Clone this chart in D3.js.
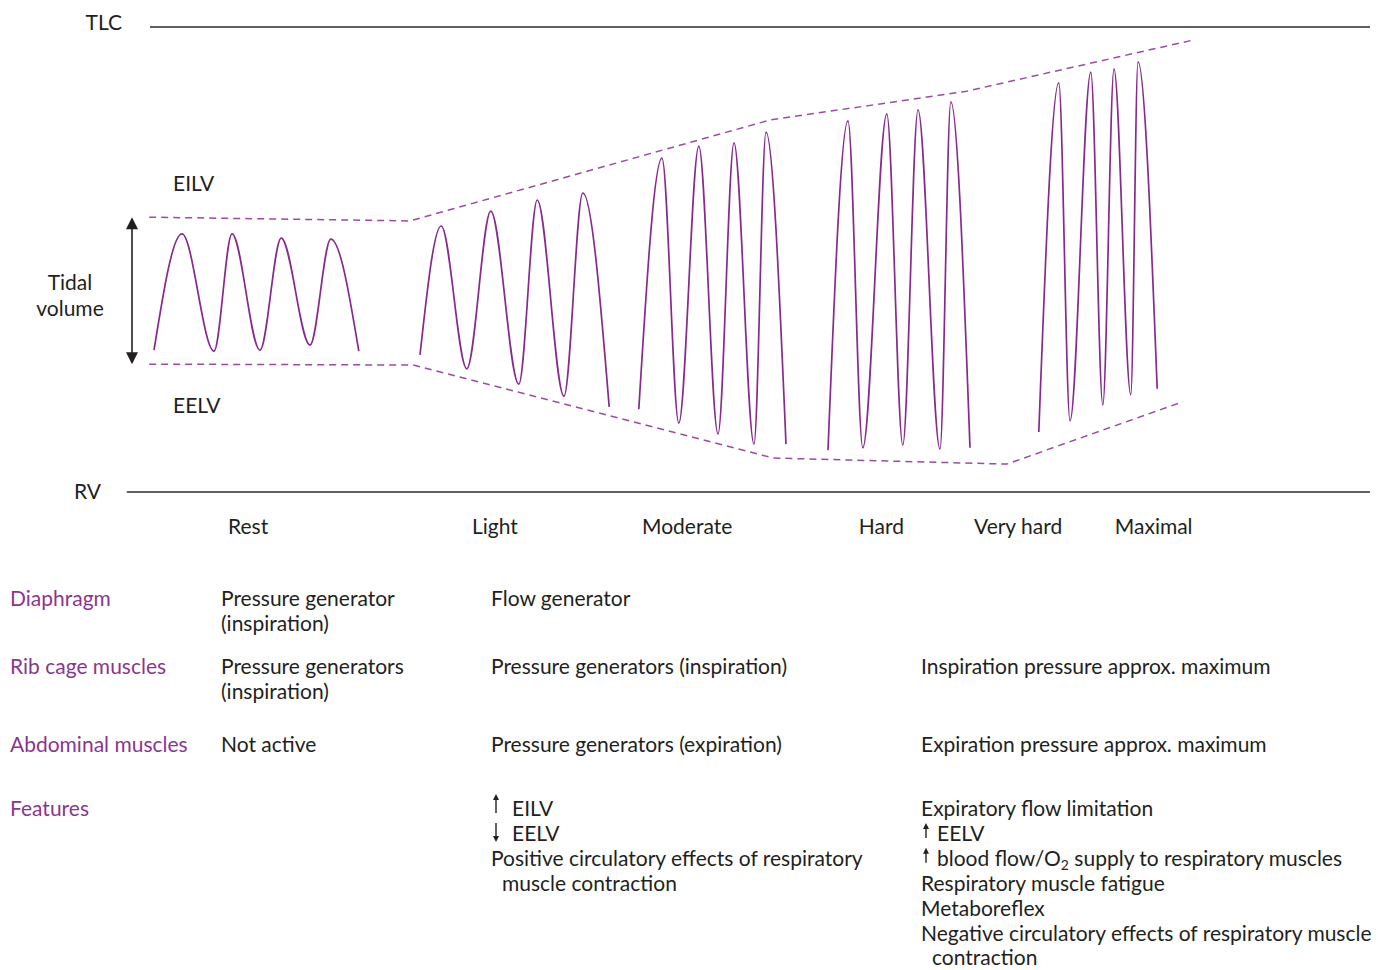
<!DOCTYPE html>
<html>
<head>
<meta charset="utf-8">
<script src="https://cdn.jsdelivr.net/npm/d3@7"></script>
<style>
    html, body {
        margin: 0;
        padding: 0;
        background: #fff;
    }
    svg text {
        font-family: Lato, "Open Sans", sans-serif;
        font-size: 21px;
        fill: #231f20;
    }
    svg text.purple { fill: #8b3591; }
</style>
</head>
<body>
<script>
    var width = 1378;
    var height = 970;

    // breathing traces, time (arbitrary units) vs lung volume (% of RV..TLC span)
    var restTime = [0.5, 4, 8, 10.25, 13.75, 16.4, 20, 22.6, 26.1];
    var restVol = [30.5, 55.5, 30.3, 55.5, 30.5, 54.6, 31.6, 54.4, 30.3];
    var lightTime = [33.75, 36.4, 39.6, 42.6, 46.1, 48.4, 51.75, 54.1, 57.4];
    var lightVol = [29.5, 57.2, 26.5, 60.4, 23.2, 62.8, 20.6, 64.3, 18.3];
    var moderateTime = [61.1, 64, 66.1, 68.6, 71, 73, 75.5, 77, 79.5];
    var moderateVol = [17.8, 71.8, 14.8, 74.4, 12.5, 75.1, 10.3, 77.4, 10.3];
    var hardTime = [84.75, 87.25, 89.1, 92.1, 94.1, 96, 98.75, 100.1, 102.5];
    var hardVol = [9.0, 79.8, 9.5, 81.3, 10.1, 82.2, 9.2, 83.9, 9.5];
    var maximalTime = [111.1, 113.6, 115, 117.6, 119.1, 120.5, 122.6, 123.5, 125.9];
    var maximalVol = [12.9, 88.0, 15.3, 90.3, 18.7, 91.0, 20.9, 92.5, 22.2];

    // end-inspiratory / end-expiratory lung volume envelopes
    var eilvTime = [-0.1, 32.5, 77.5, 102.1, 130.4];
    var eilvVol = [59.1, 58.3, 80, 86.2, 97.2];
    var eelvTime = [-0.1, 32.9, 77.9, 107.1, 129.1];
    var eelvVol = [27.5, 27.3, 7.3, 6.0, 19.4];

    var intensityLabels = ["Rest", "Light", "Moderate", "Hard", "Very hard", "Maximal"];
    var intensityTime = [9.75, 40.25, 61.5, 88.6, 103, 120.6];

    var rowLabels = ["Diaphragm", "Rib cage muscles", "Abdominal muscles", "Features"];
    var restCol = [["Pressure generator", "(inspiration)"],
                   ["Pressure generators", "(inspiration)"],
                   ["Not active"],
                   []];
    var lightCol = [["Flow generator"],
                    ["Pressure generators (inspiration)"],
                    ["Pressure generators (expiration)"],
                    ["^EILV", "vEELV", "Positive circulatory effects of respiratory", "  muscle contraction"]];
    var heavyCol = [[],
                    ["Inspiration pressure approx. maximum"],
                    ["Expiration pressure approx. maximum"],
                    ["Expiratory flow limitation", "^EELV", "^blood flow/O_2 supply to respiratory muscles",
                     "Respiratory muscle fatigue", "Metaboreflex",
                     "Negative circulatory effects of respiratory muscle", "  contraction"]];

    var purple = "#862a8c";

    var svg = d3.select("body").append("svg")
        .attr("width", width)
        .attr("height", height);

    var x = d3.scaleLinear().domain([0, 130]).range([150, 1190]);
    var y = d3.scaleLinear().domain([0, 100]).range([492, 27]);

    // TLC and RV limits
    svg.append("line")
        .attr("x1", x(0)).attr("x2", 1370)
        .attr("y1", y(100)).attr("y2", y(100))
        .attr("stroke", "#2b2b2b").attr("stroke-width", 1.3);
    svg.append("line")
        .attr("x1", x(-2.9)).attr("x2", 1370)
        .attr("y1", y(0)).attr("y2", y(0))
        .attr("stroke", "#2b2b2b").attr("stroke-width", 1.3);

    svg.append("text").attr("x", 122).attr("y", y(100) + 3).attr("text-anchor", "end").text("TLC");
    svg.append("text").attr("x", 101).attr("y", y(0) + 7).attr("text-anchor", "end").text("RV");

    var line = d3.line()
        .x(function (d) { return x(d[0]); })
        .y(function (d) { return y(d[1]); });

    // dashed envelopes
    [[eilvTime, eilvVol], [eelvTime, eelvVol]].forEach(function (s) {
        svg.append("path")
            .datum(d3.zip(s[0], s[1]))
            .attr("d", line)
            .attr("fill", "none")
            .attr("stroke", "#9a4da0")
            .attr("stroke-width", 1.5)
            .attr("stroke-dasharray", "7,5");
    });

    // breathing traces
    var smooth = d3.line()
        .x(function (d) { return x(d[0]); })
        .y(function (d) { return y(d[1]); })
        .curve(d3.curveMonotoneX);

    [[restTime, restVol], [lightTime, lightVol], [moderateTime, moderateVol],
     [hardTime, hardVol], [maximalTime, maximalVol]].forEach(function (s) {
        svg.append("path")
            .datum(d3.zip(s[0], s[1]))
            .attr("d", smooth)
            .attr("fill", "none")
            .attr("stroke", purple)
            .attr("stroke-width", 1.7);
    });

    // tidal volume double arrow
    var ax = x(-2.25);
    var yTop = y(eilvVol[0]), yBot = y(eelvVol[0]);
    svg.append("line")
        .attr("x1", ax).attr("x2", ax)
        .attr("y1", yTop + 8).attr("y2", yBot - 8)
        .attr("stroke", "#231f20").attr("stroke-width", 1.6);
    svg.append("path")
        .attr("d", "M" + ax + "," + yTop + "l-6,12h12z")
        .attr("fill", "#231f20");
    svg.append("path")
        .attr("d", "M" + ax + "," + yBot + "l-6,-12h12z")
        .attr("fill", "#231f20");

    svg.append("text").attr("x", 70).attr("y", 290).attr("text-anchor", "middle").text("Tidal");
    svg.append("text").attr("x", 70).attr("y", 316).attr("text-anchor", "middle").text("volume");
    svg.append("text").attr("x", 173).attr("y", 191).text("EILV");
    svg.append("text").attr("x", 173).attr("y", 413).text("EELV");

    // intensity labels
    svg.selectAll(".intensity")
        .data(intensityLabels)
        .enter().append("text")
        .attr("class", "intensity")
        .attr("x", function (d, i) { return x(intensityTime[i]); })
        .attr("y", 534)
        .text(function (d) { return d; });

    // table
    var rowBase = [606, 674, 752, 816];
    var lineStep = 24.9;

    svg.selectAll(".rowlabel")
        .data(rowLabels)
        .enter().append("text")
        .attr("class", "purple rowlabel")
        .attr("x", 10)
        .attr("y", function (d, i) { return rowBase[i]; })
        .text(function (d) { return d; });

    function arrow(ax, by, up, len) {
        var top = by - len;
        var p = up
            ? "M" + ax + "," + by + "V" + (top + 4)
            : "M" + ax + "," + top + "V" + (by - 4);
        svg.append("path").attr("d", p)
            .attr("stroke", "#231f20").attr("stroke-width", 1.4).attr("fill", "none");
        var head = up
            ? "M" + ax + "," + top + "l-3,6h6z"
            : "M" + ax + "," + by + "l-3,-6h6z";
        svg.append("path").attr("d", head).attr("fill", "#231f20");
    }

    function drawColumn(col, cx, arrowGap, arrowLen) {
        col.forEach(function (lines, r) {
            lines.forEach(function (s, k) {
                var by = rowBase[r] + k * lineStep;
                var tx = cx;
                if (s[0] === "^" || s[0] === "v") {
                    arrow(cx + 5, by - (s[0] === "^" ? 3 : -1), s[0] === "^", arrowLen);
                    s = s.slice(1);
                    tx = cx + arrowGap;
                } else if (s.indexOf("  ") === 0) {
                    s = s.slice(2);
                    tx = cx + 11;
                }
                var t = svg.append("text").attr("x", tx).attr("y", by);
                var parts = s.split("_");
                if (parts.length === 1) {
                    t.text(s);
                } else {
                    t.append("tspan").text(parts[0]);
                    t.append("tspan").attr("dy", 4).style("font-size", "14px").text(parts[1][0]);
                    t.append("tspan").attr("dy", -4).text(parts[1].slice(1));
                }
            });
        });
    }

    drawColumn(restCol, 221, 0, 0);
    drawColumn(lightCol, 491, 21, 19);
    drawColumn(heavyCol, 921, 16, 15);
</script>
</body>
</html>
